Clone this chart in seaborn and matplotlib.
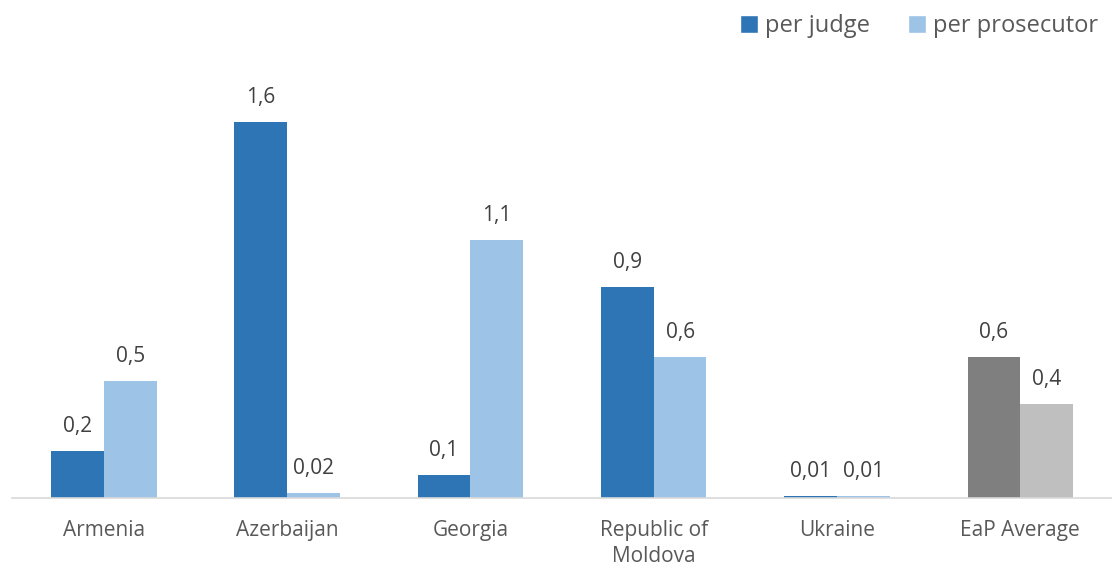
import matplotlib
matplotlib.use("Agg")
import matplotlib.pyplot as plt
from matplotlib.patches import Patch
import seaborn as sns
import pandas as pd

countries = ["Armenia", "Azerbaijan", "Georgia", "Republic of\nMoldova", "Ukraine", "EaP Average"]
per_judge = [0.2, 1.6, 0.1, 0.9, 0.01, 0.6]
per_prosecutor = [0.5, 0.02, 1.1, 0.6, 0.01, 0.4]
series_names = ["per judge", "per prosecutor"]

judge_color = "#2E75B6"
prosecutor_color = "#9DC3E6"
avg_judge_color = "#7F7F7F"
avg_prosecutor_color = "#BFBFBF"

df = pd.DataFrame({
    "country": countries * 2,
    "value": per_judge + per_prosecutor,
    "series": [series_names[0]] * len(countries) + [series_names[1]] * len(countries),
})

sns.set_theme(style="white")
plt.rcParams["font.family"] = ["Open Sans", "DejaVu Sans"]

fig = plt.figure(figsize=(11.12, 5.67), dpi=100)
ax = fig.add_axes([0.011, 1 - 498 / 567, 0.989, (498 - 75) / 567])

sns.barplot(data=df, x="country", y="value", hue="series",
            palette=[judge_color, prosecutor_color], width=0.575,
            saturation=1, legend=False, linewidth=0, ax=ax)

# Grey out the average group
for container, avg_col in zip(ax.containers, [avg_judge_color, avg_prosecutor_color]):
    container.patches[-1].set_facecolor(avg_col)

def fmt(v):
    s = f"{v:.2f}" if v < 0.05 else f"{v:.1f}"
    return s.replace(".", ",")

for container, vals in zip(ax.containers, [per_judge, per_prosecutor]):
    ax.bar_label(container, labels=[fmt(v) for v in vals], padding=10,
                 fontsize=15, color="#404040")

ax.set_ylim(0, 1.8)
ax.set_xlim(-0.5, len(countries) - 0.5)
ax.set_xlabel("")
ax.set_ylabel("")
ax.set_yticks([])
for side in ["top", "left", "right"]:
    ax.spines[side].set_visible(False)
ax.spines["bottom"].set_color("#D9D9D9")
ax.spines["bottom"].set_linewidth(1.2)
ax.tick_params(axis="x", length=0, pad=16, labelsize=15, labelcolor="#595959")
for lbl in ax.get_xticklabels():
    lbl.set_linespacing(1.3)

handles = [Patch(facecolor=judge_color), Patch(facecolor=prosecutor_color)]
fig.legend(handles, series_names, loc="upper right", bbox_to_anchor=(1.0, 1.0),
           ncol=2, frameon=False, fontsize=17, labelcolor="#595959",
           handlelength=0.75, handleheight=0.75, handletextpad=0.3, columnspacing=1.6,
           borderaxespad=0.2)

fig.savefig("out.png", dpi=100)
